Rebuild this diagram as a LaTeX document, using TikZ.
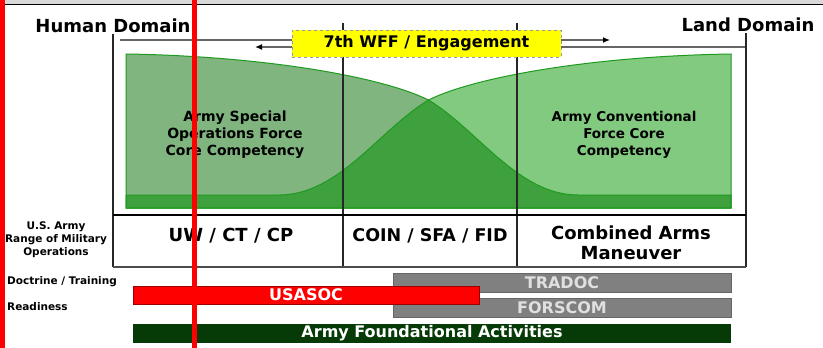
\documentclass[tikz,border=0pt]{standalone}
\usepackage{fontspec}
\setmainfont{DejaVu Sans}
\usetikzlibrary{arrows.meta}

\definecolor{asofgreen}{HTML}{80B57F}
\definecolor{cfgreen}{HTML}{82CA80}
\definecolor{overlapgreen}{HTML}{3FA03E}
\definecolor{edgegreen}{HTML}{1E9A1E}
\definecolor{bargray}{HTML}{808080}
\definecolor{afagreen}{HTML}{063A06}
\definecolor{wffyellow}{HTML}{FFFF00}

% competency areas (pixel coordinates, y downwards)
\newcommand{\asofarea}{(126,54) .. controls (260,56) and (380,76) .. (428.5,100)
  .. controls (478,130) and (518,195) .. (578,195) -- (731,195) -- (731,208) -- (126,208) -- cycle}
\newcommand{\cfarea}{(731,54) .. controls (597,56) and (477,76) .. (428.5,100)
  .. controls (379,130) and (339,195) .. (279,195) -- (126,195) -- (126,208) -- (731,208) -- cycle}

\begin{document}
\begin{tikzpicture}[x=1pt, y=-1pt, every node/.style={inner sep=0pt, font=\bfseries},
	bigtext/.style={font=\bfseries\fontsize{18}{20}\selectfont},
	areatext/.style={align=center, font=\bfseries\fontsize{13.5}{17}\selectfont},
	sidetext/.style={font=\bfseries\fontsize{10.5}{13}\selectfont},
	unitbar/.style={minimum height=19, text=white, font=\bfseries\fontsize{16}{18}\selectfont},
	frame/.style={line width=1.8pt, black!85},
	topline/.style={line width=2.2pt, black!60}]
	
	\useasboundingbox (0,0) rectangle (823,348);
	
	% Top band
	\fill[black!15] (0,0) rectangle (823,4);
	\draw[line width=1.5pt] (0,4.5) -- (823,4.5);
	
	% Domain labels
	\node[bigtext] (human) at (113,26) {Human Domain};
	\node[bigtext] (land) at (748,25) {Land Domain};
	
	% Competency areas
	\fill[asofgreen] \asofarea;
	\fill[cfgreen] \cfarea;
	\begin{scope}
		\clip \asofarea;
		\fill[overlapgreen] \cfarea;
	\end{scope}
	\draw[edgegreen, line width=1pt] \asofarea;
	\draw[edgegreen, line width=1pt] \cfarea;
	
	\node[areatext, font=\bfseries\fontsize{14}{17}\selectfont] (asof) at (235,135) {Army Special\\Operations Force\\Core Competency};
	\node[areatext] (cfcc) at (624,135) {Army Conventional\\Force Core\\Competency};
	
	% Frame and dividers
	\draw[frame] (113,34) -- (113,267);
	\draw[frame] (746,33) -- (746,267);
	\draw[frame] (343,23) -- (343,267);
	\draw[frame] (517,23) -- (517,267);
	\draw[line width=2pt] (113,215) -- (746,215);
	\draw[line width=1.5pt, black!70] (113,267) -- (746,267);
	
	% 7th WFF / Engagement
	\node[draw=black!40, dashed, fill=wffyellow, minimum width=269, minimum height=27,
		font=\bfseries\fontsize{16}{18}\selectfont] (wff) at (426.5,43.5) {7th WFF / Engagement};
	\coordinate (topL) at (120,40);
	\coordinate (topR) at (745,47);
	\coordinate (wffL) at (255,47);
	\coordinate (wffR) at (610,40);
	\draw[topline] (topL) -- (topL -| wff.west);
	\draw[topline] (topR -| wff.east) -- (topR);
	\draw[topline, -{Latex[length=7pt, width=6pt, black]}] (wffL -| wff.west) -- (wffL);
	\draw[topline, -{Latex[length=7pt, width=6pt, black]}] (wffR -| wff.east) -- (wffR);
	
	% Range of military operations
	\node[bigtext] (uw) at (231,236) {UW / CT / CP};
	\node[bigtext, font=\bfseries\fontsize{17.5}{20}\selectfont] (coin) at (430,236) {COIN / SFA / FID};
	\node[bigtext, align=center] (cam) at (631,243) {Combined Arms\\Maneuver};
	
	% Side labels
	\node[sidetext, align=center] (range) at (56,240) {U.S. Army\\Range of Military\\Operations};
	\node[sidetext, anchor=west] (doctrine) at (7,282) {Doctrine / Training};
	\node[sidetext, anchor=west] (readiness) at (7,307) {Readiness};
	
	% Commands
	\node[unitbar, fill=bargray, draw=black!60, minimum width=338, text=black!12] (tradoc) at (562,282.5) {TRADOC};
	\node[unitbar, fill=bargray, draw=black!60, minimum width=338, text=black!12] (forscom) at (562,307.5) {FORSCOM};
	\node[unitbar, fill=red, draw=red!60!black, minimum width=346, minimum height=18] (usasoc) at (306,295) {USASOC};
	\node[unitbar, fill=afagreen, minimum width=598] (afa) at (432,333.5) {Army Foundational Activities};
	
	% Red marks
	\draw[red, line width=5pt] (2.5,0) -- (2.5,348);
	\draw[red, line width=5pt] (194.5,0) -- (194.5,348);
	
\end{tikzpicture}
\end{document}
